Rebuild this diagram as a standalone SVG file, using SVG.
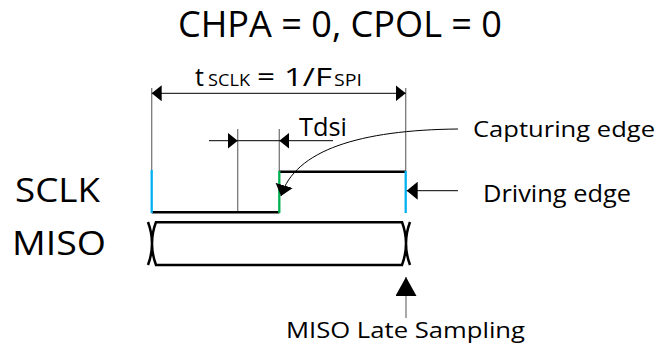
<svg xmlns="http://www.w3.org/2000/svg" width="658" height="348" viewBox="0 0 658 348">
<style>
text{font-family:"Open Sans","Noto Sans","Liberation Sans",sans-serif;fill:#000}
.ext{stroke:#7a7a7a;stroke-width:1.3;fill:none}
.dim{stroke:#000;stroke-width:1;fill:none}
.sig{stroke:#000;stroke-width:2.5;fill:none}
.blue{stroke:#00b0f0;stroke-width:2.3}
.green{stroke:#00b050;stroke-width:2.3}
.gray{stroke:#7a7a7a;stroke-width:1.3;fill:none}
</style>
<defs>
<marker id="ah" viewBox="0 0 10 16" refX="10" refY="8" markerWidth="10" markerHeight="16" orient="auto-start-reverse" markerUnits="userSpaceOnUse"><path d="M0,0 L10,8 L0,16 z" fill="#000"/></marker>
<marker id="ah2" viewBox="0 0 11 18" refX="11" refY="9" markerWidth="11" markerHeight="18" orient="auto" markerUnits="userSpaceOnUse"><path d="M0,0 L11,9 L0,18 z" fill="#000"/></marker>
<marker id="ahb" viewBox="0 0 19 21" refX="19" refY="10.5" markerWidth="19" markerHeight="21" orient="auto" markerUnits="userSpaceOnUse"><path d="M0,0 L19,10.5 L0,21 z" fill="#000"/></marker>
</defs>
<g id="title"><text x="178" y="37" font-size="36" textLength="324" lengthAdjust="spacingAndGlyphs">CHPA = 0, CPOL = 0</text></g>
<g id="sclk-label"><text x="15" y="202" font-size="32" textLength="85" lengthAdjust="spacingAndGlyphs">SCLK</text></g>
<g id="miso-label"><text x="12" y="255" font-size="33" textLength="94" lengthAdjust="spacingAndGlyphs">MISO</text></g>
<g id="period-label">
<text x="195" y="86" font-size="25">t</text>
<text x="208" y="86" font-size="16" textLength="42" lengthAdjust="spacingAndGlyphs">SCLK</text>
<text x="257" y="86" font-size="25" textLength="18" lengthAdjust="spacingAndGlyphs">=</text>
<text x="284" y="86" font-size="25" textLength="48" lengthAdjust="spacingAndGlyphs">1/F</text>
<text x="334" y="86" font-size="16" textLength="28" lengthAdjust="spacingAndGlyphs">SPI</text>
</g>
<g id="tdsi-label"><text x="299" y="136" font-size="25" textLength="48" lengthAdjust="spacingAndGlyphs">Tdsi</text></g>
<g id="capturing-label"><text x="473" y="137" font-size="22" textLength="182" lengthAdjust="spacingAndGlyphs">Capturing edge</text></g>
<g id="driving-label"><text x="483" y="202" font-size="23" textLength="148" lengthAdjust="spacingAndGlyphs">Driving edge</text></g>
<g id="late-label"><text x="286" y="338" font-size="21" textLength="239" lengthAdjust="spacingAndGlyphs">MISO Late Sampling</text></g>
<g id="sclk-signal">
<path class="ext" d="M151.7,88 V170 M405.7,88 V171 M237.7,129 V212 M279.3,129 V171"/>
<path class="sig" d="M151.7,212.3 H279.3 M279.3,171.7 H405.7"/>
<line class="blue" x1="151.7" y1="170" x2="151.7" y2="213"/>
<line class="green" x1="279.3" y1="171" x2="279.3" y2="213"/>
<line class="blue" x1="405.7" y1="171" x2="405.7" y2="213"/>
</g>
<g id="miso-signal">
<path class="sig" stroke-width="2.2" d="M155,222.3 H403 M155,265 H403 M148,222 Q156,243.5 148,265 M156,222 Q148,243.5 156,265 M402,222 Q410,243.5 402,265 M410,222 Q402,243.5 410,265"/>
</g>
<g id="connectors">
<path class="dim" d="M151.7,93.3 H405.7" marker-start="url(#ah)" marker-end="url(#ah)"/>
<path class="dim" d="M209,140.7 H237.7" marker-end="url(#ah)"/>
<path class="dim" d="M237.7,140.7 H279.3"/>
<path class="dim" d="M333,140.7 H279.3" marker-end="url(#ah)"/>
<path class="dim" d="M458,129 C360,130 295,150 281,196" marker-end="url(#ah2)"/>
<path class="dim" d="M458,190.7 H406.7" marker-end="url(#ah2)"/>
<path class="gray" d="M406,318 V277" marker-end="url(#ahb)"/>
</g>
</svg>
